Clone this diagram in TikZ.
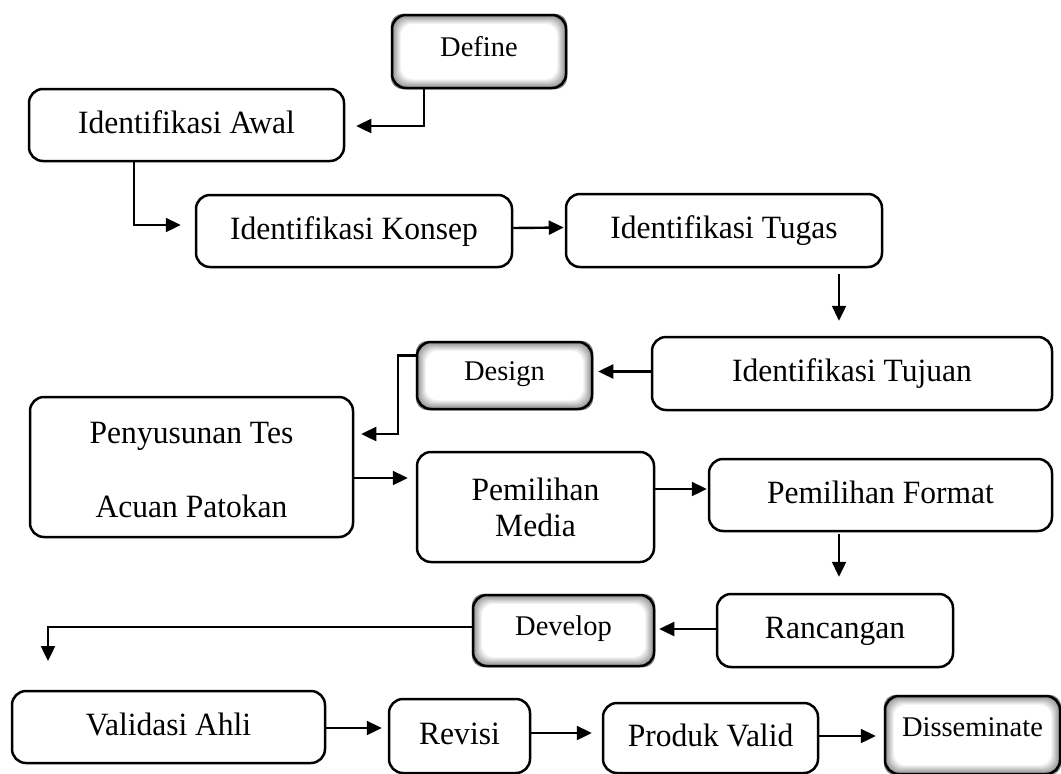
\documentclass[tikz,border=0pt]{standalone}
\usepackage{fontspec}
\setmainfont{Liberation Serif}
\newfontfamily\condfont[FakeStretch=0.97]{Liberation Serif}
\usetikzlibrary{arrows.meta,backgrounds,calc}
\tikzset{
  box/.style={draw, line width=2.5pt, rounded corners=14pt, inner sep=0pt, align=center, font=\condfont\fontsize{32.5}{36}\selectfont},
  one/.style={text height=16pt, text depth=0pt},
  shbox/.style={box, font=\rmfamily\fontsize{28.5}{32}\selectfont, text height=10pt, text depth=0pt},
  arr/.style={line width=2.4pt, -{Triangle[length=15pt,width=14pt]}},
}
\newcommand{\vignette}[1]{%
  \begin{pgfonlayer}{background}
  \foreach \i [evaluate=\i as \c using {max(0,50-5*\i)}] in {0,...,11}{
    \fill[black!\c, rounded corners=12pt] ([shift={(\i pt,-\i pt)}]#1.north west) rectangle ([shift={(-\i pt,\i pt)}]#1.south east);
  }
  \end{pgfonlayer}}
\begin{document}
\begin{tikzpicture}[x=1pt,y=-1pt]
\useasboundingbox (0,0) rectangle (1061,774);
% nodes
\node[shbox, minimum width=174, minimum height=73] (def) at (479,51.5) {Define};
\node[box, one, minimum width=315, minimum height=72] (awal) at (186.5,125) {Identifikasi Awal};
\node[box, one, minimum width=316, minimum height=72] (konsep) at (354,231) {Identifikasi Konsep};
\node[box, one, minimum width=316, minimum height=73] (tugas) at (724,230.5) {Identifikasi Tugas};
\node[box, one, minimum width=400, minimum height=73] (tujuan) at (852,373.5) {Identifikasi Tujuan};
\node[shbox, minimum width=175, minimum height=67] (design) at (504.5,375.5) {Design};
\node[box, minimum width=323, minimum height=140] (pen) at (191.5,467) {\raisebox{-13pt}[0pt][0pt]{Penyusunan Tes}\\[38pt]\raisebox{-13pt}[0pt][0pt]{Acuan Patokan}};
\node[box, minimum width=237, minimum height=110] (media) at (535.5,507) {Pemilihan\\Media};
\node[box, one, minimum width=343, minimum height=72] (format) at (880.5,495) {Pemilihan Format};
\node[box, one, minimum width=236, minimum height=73] (ranc) at (835,630.5) {Rancangan};
\node[shbox, minimum width=181, minimum height=71] (dev) at (563.5,630.5) {Develop};
\node[box, one, minimum width=313, minimum height=72] (val) at (168.5,727) {Validasi Ahli};
\node[box, one, minimum width=141, minimum height=74] (rev) at (459.5,736) {Revisi};
\node[box, one, minimum width=215, minimum height=70] (prod) at (710.5,738) {Produk Valid};
\node[shbox, text height=3pt, minimum width=175, minimum height=78] (diss) at (972.5,735) {Disseminate};
\vignette{def}
\vignette{design}
\vignette{dev}
\vignette{diss}
% coordinates
\coordinate (c1) at (839,0);
\coordinate (c2) at (48,661);
% connectors
\draw[arr, shorten >=11pt] ([xshift=33pt]def.south west) |- ([yshift=-1pt]awal.east);
\draw[arr, shorten >=14pt] ([xshift=106pt]awal.south west) |- ([yshift=6pt]konsep.west);
\draw[arr, shorten >=1pt] ([yshift=3pt]konsep.east) -- ([yshift=3pt]tugas.west);
\draw[arr, shorten <=6pt, shorten >=15pt] (tugas.south -| c1) -- (tujuan.north -| c1);
\draw[arr, shorten >=5pt] ([yshift=2pt]tujuan.west) -- ([yshift=2pt]tujuan.west -| design.east);
\draw[arr, shorten >=7pt] ([yshift=20pt]design.west) -- ++(-18,0) |- ([yshift=33pt]pen.east);
\draw[arr, shorten >=8pt] ([yshift=-11pt]pen.east) -- ([yshift=-11pt]pen.east -| media.west);
\draw[arr, shorten >=1pt] ([yshift=18pt]media.east) -- ([yshift=18pt]media.east -| format.west);
\draw[arr, shorten <=2pt, shorten >=16pt] (format.south -| c1) -- (ranc.north -| c1);
\draw[arr, shorten >=4pt] ([yshift=1.5pt]ranc.west) -- ([yshift=1.5pt]ranc.west -| dev.east);
\draw[arr] ([yshift=3.5pt]dev.west) -| (c2);
\draw[arr, shorten >=6pt] ([yshift=-1pt]val.east) -- ([yshift=-1pt]val.east -| rev.west);
\draw[arr, shorten >=10pt] ([yshift=3pt]rev.east) -- ([yshift=3pt]rev.east -| prod.west);
\draw[arr, shorten >=8pt] ([yshift=2pt]prod.east) -- ([yshift=2pt]prod.east -| diss.west);
\end{tikzpicture}
\end{document}
